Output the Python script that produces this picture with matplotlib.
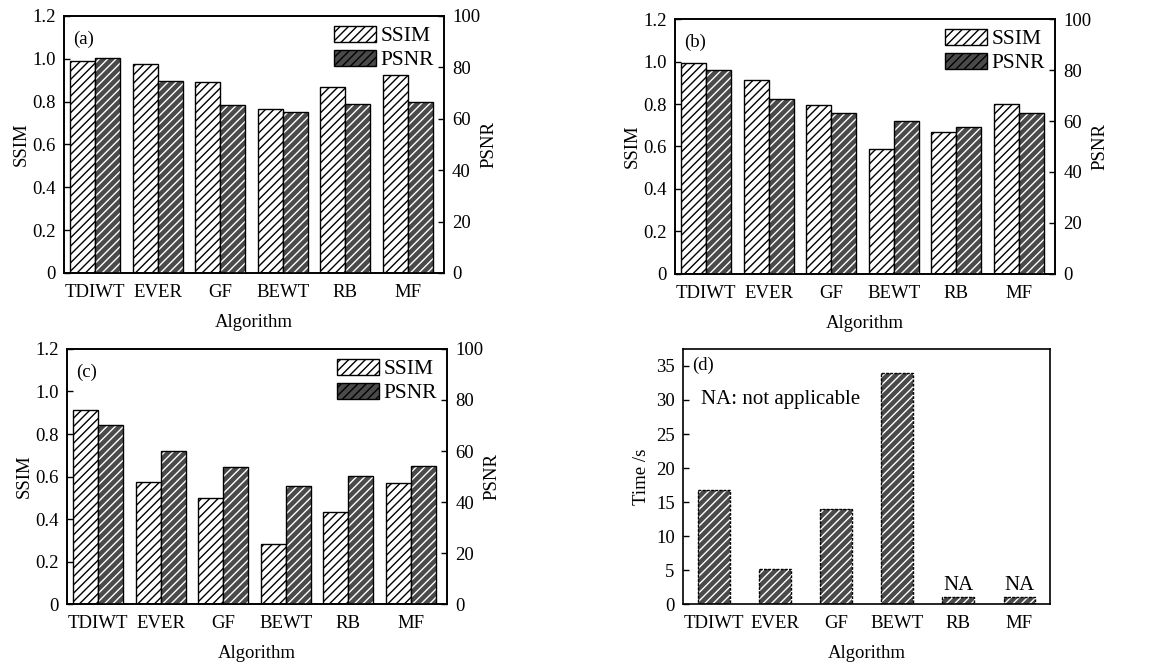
import matplotlib.pyplot as plt
import numpy as np
from matplotlib.ticker import FuncFormatter

plt.rcParams["font.family"] = ["Liberation Serif", "DejaVu Serif"]
plt.rcParams["font.size"] = 13.5
plt.rcParams["hatch.linewidth"] = 1.0

algorithms = ["TDIWT", "EVER", "GF", "BEWT", "RB", "MF"]

ssim_a = [0.99, 0.978, 0.892, 0.766, 0.866, 0.923]
psnr_a = [83.5, 74.7, 65.4, 62.7, 65.8, 66.6]

ssim_b = [0.995, 0.914, 0.795, 0.586, 0.668, 0.80]
psnr_b = [80.2, 68.6, 63.0, 60.1, 57.6, 63.0]

ssim_c = [0.913, 0.574, 0.500, 0.282, 0.434, 0.568]
psnr_c = [70.1, 60.1, 53.6, 46.3, 50.2, 54.0]

time_d = [16.7, 5.2, 14.0, 34.0, 1.0, 1.0]
na_flags = [False, False, False, False, True, True]

fig = plt.figure(figsize=(11.74, 6.65), dpi=100)

boxes = {
    "a": [0.0545, 0.5895, 0.3235, 0.3865],
    "b": [0.575, 0.588, 0.3236, 0.3834],
    "c": [0.057, 0.0917, 0.3237, 0.3835],
    "d": [0.5818, 0.0917, 0.3126, 0.3835],
}

x = np.arange(len(algorithms))
w = 0.4
dark = "#4a4a4a"


def ssim_fmt(v, pos):
    return "0" if abs(v) < 1e-9 else f"{v:.1f}"


def style_ax(ax):
    ax.tick_params(axis="y", direction="in", length=4, width=1, pad=6)
    ax.tick_params(axis="x", length=0, pad=8)
    for s in ax.spines.values():
        s.set_linewidth(1.2)


def dual_panel(box, ssim, psnr, tag):
    ax1 = fig.add_axes(box)
    ax2 = ax1.twinx()
    ax1.bar(x - w / 2, ssim, w, facecolor="white", edgecolor="black",
            hatch="////", linewidth=1.0, label="SSIM")
    # dark bars: grey fill with white stripes, black outline on top
    ax2.bar(x + w / 2, psnr, w, facecolor=dark, edgecolor="white",
            hatch="////", linewidth=0)
    ax2.bar(x + w / 2, psnr, w, facecolor="none", edgecolor="black",
            linewidth=1.0)
    ax1.set_xlim(-0.5, 5.58)
    ax1.set_ylim(0, 1.2)
    ax2.set_ylim(0, 100)
    ax1.set_yticks(np.arange(0, 1.21, 0.2))
    ax1.yaxis.set_major_formatter(FuncFormatter(ssim_fmt))
    ax2.set_yticks(np.arange(0, 101, 20))
    ax1.set_xticks(x)
    ax1.set_xticklabels(algorithms)
    ax1.set_xlabel("Algorithm", labelpad=9)
    ax1.set_ylabel("SSIM", labelpad=2)
    ax2.set_ylabel("PSNR", labelpad=0)
    style_ax(ax1)
    style_ax(ax2)
    ax1.text(0.024, 0.91, f"({tag})", transform=ax1.transAxes,
             ha="left", va="center")
    # legend handles
    h1 = plt.Rectangle((0, 0), 1, 1, facecolor="white", edgecolor="black",
                       hatch="////", linewidth=1.0)
    h2 = plt.Rectangle((0, 0), 1, 1, facecolor=dark, edgecolor="black",
                       hatch="////", linewidth=1.0)
    ax2.legend([h1, h2], ["SSIM", "PSNR"], loc="upper right", frameon=False,
               fontsize=15.5, handlelength=1.95, handleheight=0.8,
               handletextpad=0.2, labelspacing=0.15, borderaxespad=0.25,
               borderpad=0.2)
    return ax1, ax2


dual_panel(boxes["a"], ssim_a, psnr_a, "a")
dual_panel(boxes["b"], ssim_b, psnr_b, "b")
dual_panel(boxes["c"], ssim_c, psnr_c, "c")

# panel d: running time
axd = fig.add_axes(boxes["d"])
wd = 0.52
axd.bar(x, time_d, wd, facecolor=dark, edgecolor="white", hatch="////",
        linewidth=0)
axd.bar(x, time_d, wd, facecolor="none", edgecolor="black", linewidth=1.0,
        linestyle=(0, (2, 1)))
for xi, t, na in zip(x, time_d, na_flags):
    if na:
        axd.text(xi, t + 0.3, "NA", ha="center", va="bottom", fontsize=15)
axd.set_xlim(-0.5, 5.5)
axd.set_ylim(0, 37.5)
axd.set_yticks(np.arange(0, 36, 5))
axd.set_xticks(x)
axd.set_xticklabels(algorithms)
axd.set_xlabel("Algorithm", labelpad=9)
axd.set_ylabel("Time /s", labelpad=4)
style_ax(axd)
axd.text(0.025, 0.935, "(d)", transform=axd.transAxes, ha="left", va="center")
axd.text(-0.2, 30, "NA: not applicable", ha="left", va="center", fontsize=15)

fig.savefig("out.png", dpi=100)
